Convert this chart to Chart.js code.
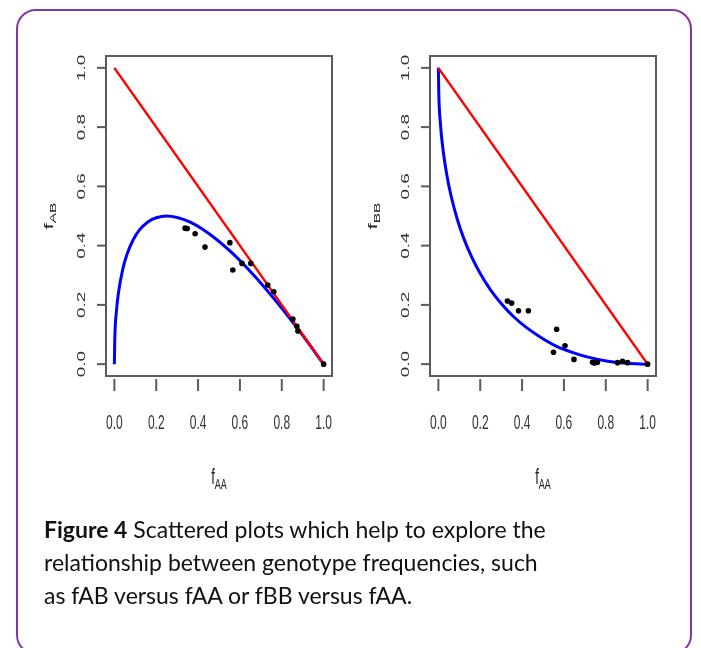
<!DOCTYPE html>
<html><head><meta charset="utf-8">
<script src="https://cdn.jsdelivr.net/npm/chart.js@4/dist/chart.umd.min.js"></script>
<style>
html,body{margin:0;padding:0;background:#fff;width:701px;height:648px;overflow:hidden;}
#card{position:absolute;left:16px;top:9px;width:676px;height:646px;border:2px solid #83399a;border-radius:20px;box-sizing:border-box;}
canvas{position:absolute;left:0;top:0;}
#cap{position:absolute;left:44px;top:513px;font-family:Lato,"Open Sans",sans-serif;font-size:23px;line-height:33px;color:#111;white-space:nowrap;}
</style></head>
<body>
<div id="card"></div>
<canvas id="c1" width="701" height="648"></canvas>
<canvas id="c2" width="701" height="648"></canvas>
<div id="cap"><b>Figure 4</b> Scattered plots which help to explore the<br>relationship between genotype frequencies, such<br>as fAB versus fAA or fBB versus fAA.</div>
<script>
// ---- data ----
const tickValues = [0, 0.2, 0.4, 0.6, 0.8, 1.0];
const tickLabels = ["0.0", "0.2", "0.4", "0.6", "0.8", "1.0"];

const lineX = [0, 1];
const lineY = [1, 0];

const curveFAA = [0,0.002,0.01,0.02,0.04,0.06,0.09,0.12,0.16,0.2,0.25,0.3,0.36,0.42,0.49,0.56,0.64,0.72,0.81,0.9,1];
const curveFAB = [0,0.085,0.18,0.243,0.32,0.37,0.42,0.453,0.48,0.494,0.5,0.495,0.48,0.456,0.42,0.377,0.32,0.257,0.18,0.097,0];
const curveFBB = [1,0.913,0.81,0.737,0.64,0.57,0.49,0.427,0.36,0.306,0.25,0.205,0.16,0.124,0.09,0.062,0.04,0.023,0.01,0.003,0];

const leftFAA  = [0.338,0.348,0.386,0.433,0.552,0.566,0.61,0.652,0.733,0.762,0.853,0.872,0.877,1.0];
const leftFAB  = [0.459,0.458,0.44,0.395,0.41,0.318,0.34,0.34,0.267,0.244,0.152,0.128,0.112,0.0];

const rightFAA = [0.33,0.35,0.383,0.43,0.565,0.55,0.605,0.648,0.737,0.745,0.76,0.856,0.88,0.904,1.0];
const rightFBB = [0.213,0.206,0.18,0.18,0.118,0.04,0.062,0.016,0.006,0.004,0.006,0.005,0.01,0.005,0.0];

// ---- helpers ----
const pts = (xs, ys) => xs.map((x, i) => ({x, y: ys[i]}));
const SY = 1.72; // vertical stretch of the original raster

function sText(ctx, str, x, y, rot, font) {
  ctx.save();
  ctx.translate(x, y);
  ctx.scale(1, SY);
  if (rot) ctx.rotate(rot);
  ctx.font = font;
  ctx.textAlign = 'center';
  ctx.textBaseline = 'middle';
  ctx.fillText(str, 0, 0);
  ctx.restore();
}
function subTitle(ctx, main, sub, x, y, rot) {
  ctx.save();
  ctx.translate(x, y);
  ctx.scale(1, SY);
  if (rot) ctx.rotate(rot);
  const f1 = '13px "Liberation Sans", Arial, sans-serif';
  const f2 = '9px "Liberation Sans", Arial, sans-serif';
  ctx.font = f1; const w1 = ctx.measureText(main).width;
  ctx.font = f2; const w2 = ctx.measureText(sub).width;
  const x0 = -(w1 + w2) / 2;
  ctx.textBaseline = 'alphabetic';
  ctx.textAlign = 'left';
  ctx.font = f1; ctx.fillText(main, x0, 4);
  ctx.font = f2; ctx.fillText(sub, x0 + w1, 7);
  ctx.restore();
}

const rDecor = {
  id: 'rDecor',
  afterDatasetsDraw(chart, args, opts) {
    const {ctx, chartArea: a, scales: {x, y}} = chart;
    ctx.save();
    ctx.strokeStyle = '#5a5a5a';
    ctx.lineWidth = 2;
    ctx.strokeRect(a.left, a.top, a.right - a.left, a.bottom - a.top);
    ctx.fillStyle = '#333';
    tickValues.forEach((v, i) => {
      const py = y.getPixelForValue(v);
      ctx.beginPath(); ctx.moveTo(a.left - 9, py); ctx.lineTo(a.left, py); ctx.stroke();
      sText(ctx, tickLabels[i], a.left - 24, py, -Math.PI / 2, '11px "Liberation Sans", Arial, sans-serif');
      const px = x.getPixelForValue(v);
      ctx.beginPath(); ctx.moveTo(px, a.bottom + 3); ctx.lineTo(px, a.bottom + 15); ctx.stroke();
      sText(ctx, tickLabels[i], px, a.bottom + 47, 0, '12px "Liberation Sans", Arial, sans-serif');
    });
    ctx.fillStyle = '#222';
    subTitle(ctx, 'f', 'AA', (a.left + a.right) / 2, a.bottom + 101, 0);
    subTitle(ctx, 'f', opts.ySub, a.left - 57, (a.top + a.bottom) / 2, -Math.PI / 2);
    ctx.restore();
  }
};

function makeChart(id, pad, curveY, dotX, dotY, ySub) {
  return new Chart(document.getElementById(id), {
    type: 'scatter',
    data: {
      datasets: [
        {data: pts(dotX, dotY), showLine: false, pointRadius: 2.8, pointBackgroundColor: '#000', pointBorderWidth: 0, pointHoverRadius: 2.8},
        {data: pts(lineX, lineY), showLine: true, borderColor: '#ff0000', borderWidth: 2.5, pointRadius: 0},
        {data: pts(curveFAA, curveY), showLine: true, borderColor: '#0000ff', borderWidth: 3, pointRadius: 0, cubicInterpolationMode: 'monotone'}
      ]
    },
    options: {
      responsive: false, animation: false, devicePixelRatio: 1,
      layout: {padding: pad},
      plugins: {legend: {display: false}, tooltip: {enabled: false}, rDecor: {ySub}},
      scales: {
        x: {type: 'linear', min: -0.04, max: 1.04, display: false},
        y: {type: 'linear', min: -0.04, max: 1.04, display: false}
      }
    },
    plugins: [rDecor]
  });
}

makeChart('c1', {left: 106, top: 56, right: 701 - 332, bottom: 648 - 376}, curveFAB, leftFAA, leftFAB, 'AB');
makeChart('c2', {left: 430, top: 56, right: 701 - 656, bottom: 648 - 376}, curveFBB, rightFAA, rightFBB, 'BB');
</script>
</body></html>
